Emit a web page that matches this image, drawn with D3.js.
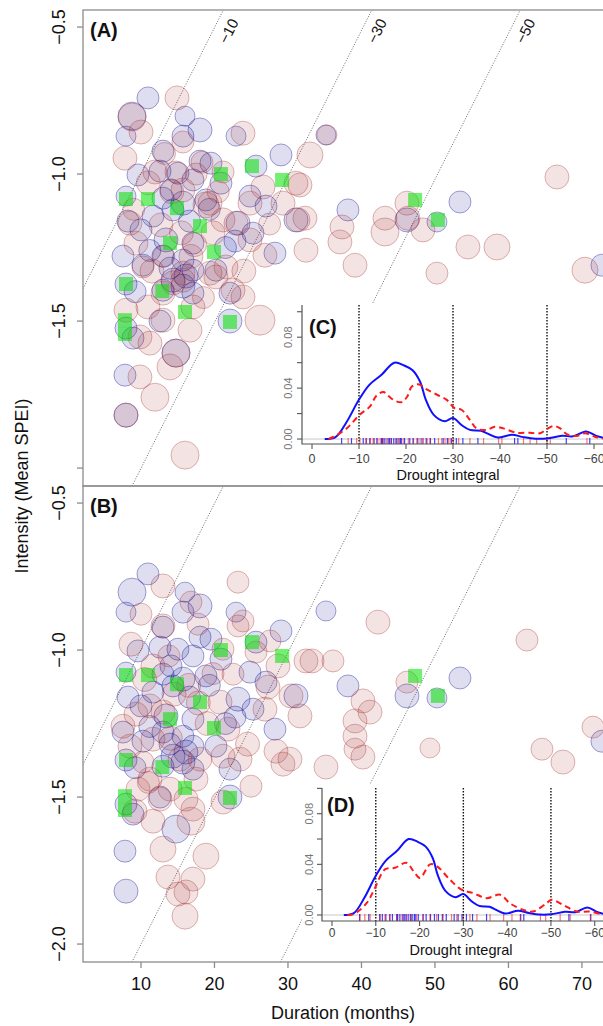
<!DOCTYPE html>
<html>
<head>
<meta charset="utf-8">
<script src="https://cdn.jsdelivr.net/npm/d3@7"></script>
<style>
body{margin:0;background:#fff}
svg{display:block;font-family:"Liberation Sans",Arial,sans-serif}
</style>
</head>
<body>
<svg id="svg"></svg>
<script>
var w = 603, h = 1026;

// observed drought events: [duration (months), mean SPEI, size class]
var blueEvents = [[10.95,-0.741,2],[8.78,-0.803,5],[15.99,-0.803,1],[18.03,-0.850,3],[7.96,-0.871,1],[15.71,-0.871,2],[22.93,-0.871,1],[12.99,-0.922,2],[29.05,-0.935,2],[18.03,-0.956,2],[19.52,-0.963,2],[25.65,-0.973,2],[12.59,-0.990,2],[15.03,-0.997,2],[9.59,-1.003,2],[17.07,-1.020,2],[20.88,-1.031,2],[7.96,-1.075,1],[14.08,-1.054,2],[18.84,-1.088,2],[15.71,-1.099,3],[24.83,-1.075,2],[27.01,-1.109,2],[31.09,-1.156,3],[8.23,-1.160,2],[23.2,-1.167,3],[25.24,-1.201,2],[13.4,-1.224,3],[17.07,-1.235,2],[22.79,-1.228,2],[28.23,-1.269,2],[7.55,-1.279,2],[10.27,-1.310,2],[12.99,-1.279,2],[15.71,-1.293,2],[20.2,-1.327,2],[14.35,-1.361,3],[16.12,-1.347,3],[7.96,-1.374,2],[12.99,-1.395,2],[15.71,-1.381,3],[17.07,-1.405,2],[22.11,-1.405,2],[22.11,-1.500,3],[7.96,-1.524,2],[8.91,-1.558,2],[12.59,-1.500,2],[14.76,-1.609,5],[7.82,-1.684,2],[7.96,-1.820,3],[35.17,-0.867,1],[38.16,-1.122,2],[46.19,-1.156,3],[50.27,-1.163,1],[53.4,-1.095,2],[72.72,-1.310,2],[14.35,-1.122,2],[12.99,-1.082,2],[11.63,-1.143,2],[13.95,-1.320,2],[17.07,-1.327,2],[10.0,-1.190,2],[11.2,-1.260,2],[16.6,-1.160,2],[19.3,-1.120,2],[9.2,-1.400,2],[21.5,-1.250,2]];

// simulated events, model A
var brownA = [[14.9,-0.741,3],[8.78,-0.806,5],[10.0,-0.857,3],[15.71,-0.891,2],[23.88,-0.861,3],[7.82,-0.946,3],[32.99,-0.935,4],[21.16,-0.993,2],[11.9,-0.993,3],[14.76,-0.993,2],[15.71,-1.054,3],[18.84,-1.105,4],[19.39,-1.099,3],[8.5,-1.167,3],[22.93,-1.167,3],[24.83,-1.099,3],[26.6,-1.044,3],[31.09,-1.031,3],[31.36,-1.156,3],[32.45,-1.259,3],[29.32,-1.099,3],[21.16,-1.156,3],[9.32,-1.235,3],[12.72,-1.173,3],[21.56,-1.316,3],[19.39,-1.337,3],[15.71,-1.337,3],[10.27,-1.316,2],[24.83,-1.224,3],[26.87,-1.276,3],[15.71,-1.361,3],[12.99,-1.405,3],[22.52,-1.395,3],[23.88,-1.418,3],[20.2,-1.350,3],[7.96,-1.463,3],[10.95,-1.452,3],[17.07,-1.452,3],[12.99,-1.497,3],[16.67,-1.531,3],[9.86,-1.554,3],[11.22,-1.575,3],[14.76,-1.609,5],[13.95,-1.656,4],[9.86,-1.690,3],[11.9,-1.759,5],[7.96,-1.820,3],[15.99,-1.956,5],[26.19,-1.497,6],[31.63,-1.037,3],[32.31,-1.150,3],[35.31,-0.867,1],[37.35,-1.180,3],[37.07,-1.231,3],[43.2,-1.150,3],[43.2,-1.197,5],[46.19,-1.099,3],[46.33,-1.150,3],[48.37,-1.190,3],[54.49,-1.248,3],[58.44,-1.248,4],[66.6,-1.010,3],[50.27,-1.337,2],[70.41,-1.327,4],[39.12,-1.310,3],[13.2,-0.930,2],[14.2,-1.060,3],[15.5,-1.200,3],[14.4,-1.370,3],[13.1,-1.280,2],[17.3,-1.240,3],[18.3,-0.960,2],[11.0,-1.030,3],[17.5,-1.000,2],[19.8,-1.200,3],[16.8,-1.280,3],[11.5,-1.330,3],[18.5,-1.420,2],[20.5,-1.060,2],[9.0,-1.120,2],[24.0,-1.330,3],[27.5,-1.170,2]];

// simulated events, model B
var brownB = [[12.99,-0.782,3],[23.2,-0.769,2],[10.0,-0.878,2],[23.88,-0.901,2],[16.8,-0.837,2],[17.76,-0.912,2],[8.64,-0.980,3],[12.99,-0.918,3],[21.16,-0.997,2],[23.2,-0.918,2],[27.55,-0.969,2],[25.65,-1.007,2],[28.64,-1.054,3],[32.45,-1.037,3],[30.41,-1.156,3],[31.63,-1.224,3],[27.28,-1.126,3],[22.52,-1.082,2],[11.63,-1.054,3],[12.99,-1.211,3],[11.22,-1.190,3],[9.32,-1.218,3],[20.75,-1.177,3],[21.84,-1.269,3],[26.87,-1.201,3],[7.55,-1.259,3],[8.5,-1.327,3],[11.63,-1.303,3],[18.03,-1.371,3],[15.31,-1.371,3],[21.16,-1.361,3],[23.47,-1.371,3],[28.37,-1.344,3],[30.27,-1.371,3],[10.27,-1.381,2],[29.32,-1.388,3],[17.48,-1.439,3],[11.22,-1.439,3],[13.95,-1.473,3],[12.59,-1.507,3],[16.12,-1.507,3],[9.59,-1.473,3],[17.07,-1.541,3],[11.63,-1.582,3],[16.8,-1.582,5],[24.97,-1.463,2],[21.16,-1.517,3],[12.99,-1.677,4],[18.84,-1.701,4],[13.67,-1.772,3],[17.07,-1.779,3],[15.03,-1.830,3],[16.12,-1.823,3],[15.99,-1.905,4],[9.18,-1.548,3],[42.24,-0.905,3],[33.27,-1.037,3],[36.12,-1.037,2],[40.2,-1.173,3],[41.16,-1.211,3],[39.12,-1.241,3],[39.12,-1.293,3],[39.12,-1.337,2],[40.2,-1.364,3],[35.17,-1.398,3],[46.19,-1.109,2],[49.32,-1.333,1],[62.52,-0.966,2],[71.5,-1.262,2],[64.56,-1.337,2],[67.41,-1.381,3],[14.5,-1.150,3],[16.5,-1.120,3],[13.8,-1.020,2],[19.0,-1.250,3],[10.5,-1.100,3],[17.8,-1.180,3],[19.8,-1.080,2],[14.0,-1.300,3],[11.0,-1.450,2],[24.5,-1.320,3]];

// highlighted events (green squares)
var greenEvents = [[7.96,-1.085],[10.95,-1.085],[14.9,-1.116],[20.88,-1.0],[25.1,-0.973],[29.2,-1.02],[18.03,-1.177],[13.95,-1.235],[19.93,-1.265],[7.96,-1.374],[12.9,-1.398],[15.99,-1.469],[7.82,-1.497],[7.82,-1.544],[22.11,-1.503],[47.3,-1.088],[50.4,-1.156]];

// drought integral iso-lines: [duration, SPEI] at both ends
var contourLevels = [-10, -30, -50];
var contourEnds = [[[22.05,-0.40],[-12.2,-2.10]], [[42.25,-0.40],[8.0,-2.10]], [[62.45,-0.40],[28.2,-2.10]]];

var xTicks = [10, 20, 30, 40, 50, 60, 70];
var yTicks = [-0.5, -1.0, -1.5, -2.0];

// density of drought integral: [integral, density]
var blueDens = [[-2.7,0],[-5.0,0.0015],[-7.3,0.013],[-10.0,0.031],[-12.2,0.0426],[-14.8,0.0505],[-17.5,0.060],[-19.6,0.0578],[-21.4,0.054],[-23.0,0.045],[-24.2,0.031],[-25.9,0.019],[-28.2,0.014],[-30.0,0.0165],[-31.8,0.011],[-33.6,0.0072],[-36.0,0.0065],[-37.5,0.004],[-39.5,0.0012],[-42.5,0.0033],[-45.0,0.0015],[-47.5,0.0003],[-50.0,0.0005],[-53.2,0.0025],[-55.6,0.0022],[-58.3,0.006],[-60.5,0.0025],[-62.5,0.0005]];
var redDensC = [[-3.5,0],[-4.6,0.0018],[-7.4,0.0084],[-10.1,0.019],[-12.3,0.0255],[-13.7,0.034],[-15.2,0.037],[-16.2,0.034],[-17.7,0.030],[-19.1,0.029],[-20.2,0.033],[-21.2,0.041],[-22.6,0.043],[-24.4,0.039],[-26.5,0.035],[-28.6,0.031],[-30.4,0.024],[-31.8,0.023],[-33.6,0.015],[-35.0,0.0084],[-37.1,0.0071],[-38.9,0.0097],[-40.7,0.0084],[-43.5,0.005],[-46.4,0.005],[-48.5,0.0045],[-49.9,0.0076],[-51.4,0.0103],[-52.8,0.0084],[-54.2,0.0039],[-56.3,0.0024],[-58.1,0.0045],[-60.2,0.0018],[-61.9,0.0003]];
var redDensD = [[-3.5,0],[-4.9,0.0005],[-7.9,0.0093],[-9.8,0.0213],[-12.1,0.036],[-14.4,0.0373],[-17.0,0.0413],[-18.6,0.0347],[-20.1,0.0293],[-22.4,0.040],[-23.9,0.0387],[-26.9,0.028],[-29.6,0.020],[-32.3,0.0173],[-35.3,0.0133],[-38.4,0.016],[-40.6,0.0093],[-43.7,0.004],[-45.9,0.0027],[-49.0,0.0093],[-50.2,0.012],[-52.8,0.008],[-55.9,0.0027],[-58.9,0.0027],[-61.9,0]];

var blueRug = [-6.3,-8.4,-10.9,-11.5,-12.3,-13.2,-13.8,-14.8,-15.0,-15.5,-16.2,-16.5,-16.9,-17.4,-17.9,-18.3,-18.8,-19.0,-19.7,-20.8,-21.5,-22.5,-23.4,-24.3,-25.2,-26.1,-27.9,-28.8,-29.7,-30.7,-32.1,-35.3,-43.1,-43.8,-54.1,-59.1];
var redRugC = [-7.7,-9.5,-10.2,-11.6,-12.4,-13.0,-14.0,-14.5,-15.2,-15.9,-16.6,-17.9,-18.6,-19.4,-20.5,-21.6,-22.3,-23.0,-23.7,-24.5,-25.1,-26.9,-27.6,-28.3,-29.0,-29.4,-30.1,-31.2,-33.6,-36.5,-39.7,-40.4,-45.0,-46.4,-47.8,-50.0,-50.7,-58.5];
var redRugD = [-6.4,-7.5,-8.7,-11.0,-12.1,-13.2,-14.8,-16.0,-17.0,-18.1,-19.3,-20.8,-22.4,-23.9,-25.4,-27.3,-28.5,-30.0,-31.5,-33.1,-36.1,-39.2,-41.1,-43.0,-47.6,-48.8,-52.1,-54.4,-59.0];

var insetXTicks = [0, -10, -20, -30, -40, -50, -60];
var insetYTicks = [0, 0.02, 0.04, 0.06, 0.08, 0.10];
var insetYLabels = [0, 0.04, 0.08];

var svg = d3.select("#svg").attr("width", w).attr("height", h);

var x = d3.scaleLinear().domain([2.11, 77.9]).range([83, 640]);
var rad = d3.scaleLinear().domain([1, 6]).range([10, 15]);
var fmt1 = d3.format(".1f");

function drawPanel(name, top, browns, labelled) {
    var y = d3.scaleLinear().domain([-2.061, -0.442]).range([top + 476, top]);
    var g = svg.append("g");

    svg.append("clipPath").attr("id", "clip" + name)
        .append("rect").attr("x", 83).attr("y", top).attr("width", 560).attr("height", 476);
    var plot = g.append("g").attr("clip-path", "url(#clip" + name + ")");

    plot.selectAll("line.iso").data(contourEnds).enter().append("line")
        .attr("x1", function(d){return x(d[0][0]);})
        .attr("y1", function(d){return y(d[0][1]);})
        .attr("x2", function(d){return x(d[1][0]);})
        .attr("y2", function(d){return y(d[1][1]);})
        .attr("stroke", "#444").attr("stroke-width", 0.8).attr("stroke-dasharray", "1,1.6");

    plot.selectAll("circle.obs").data(blueEvents).enter().append("circle")
        .attr("cx", function(d){return x(d[0]);})
        .attr("cy", function(d){return y(d[1]);})
        .attr("r", function(d){return rad(d[2]);})
        .attr("fill", "rgba(0,0,139,0.13)")
        .attr("stroke", "rgba(0,0,139,0.45)").attr("stroke-width", 0.8);

    plot.selectAll("circle.sim").data(browns).enter().append("circle")
        .attr("cx", function(d){return x(d[0]);})
        .attr("cy", function(d){return y(d[1]);})
        .attr("r", function(d){return rad(d[2]);})
        .attr("fill", "rgba(165,42,42,0.13)")
        .attr("stroke", "rgba(165,42,42,0.42)").attr("stroke-width", 0.8);

    plot.selectAll("rect.hl").data(greenEvents).enter().append("rect")
        .attr("x", function(d){return x(d[0]) - 7;})
        .attr("y", function(d){return y(d[1]) - 7;})
        .attr("width", 14).attr("height", 14)
        .attr("fill", "rgba(0,225,0,0.55)");

    if (labelled) {
        var iLab = y.invert(top + 21);
        contourEnds.forEach(function(seg, i) {
            var t = (iLab - seg[0][1]) / (seg[1][1] - seg[0][1]);
            var dLab = seg[0][0] + t * (seg[1][0] - seg[0][0]);
            var ang = Math.atan2(y(seg[0][1]) - y(seg[1][1]), x(seg[0][0]) - x(seg[1][0])) * 180 / Math.PI;
            g.append("text")
                .attr("transform", "translate(" + (x(dLab) + 15.5) + "," + (top + 21) + ") rotate(" + ang + ")")
                .attr("text-anchor", "middle").attr("dominant-baseline", "central")
                .attr("font-size", 15).attr("fill", "#111")
                .text(d3.format("d")(contourLevels[i]));
        });
    }

    // frame
    g.append("rect").attr("x", 83).attr("y", top).attr("width", 600).attr("height", 476)
        .attr("fill", "none").attr("stroke", "#8c8c8c").attr("stroke-width", 1.3);

    g.selectAll("line.yt").data(yTicks).enter().append("line")
        .attr("x1", 77).attr("x2", 83)
        .attr("y1", function(d){return y(d);}).attr("y2", function(d){return y(d);})
        .attr("stroke", "#8c8c8c").attr("stroke-width", 1.3);
    var labTicks = name === "A" ? yTicks.slice(0, 3) : yTicks;
    g.selectAll("text.yl").data(labTicks).enter().append("text")
        .attr("transform", function(d){return "translate(65," + y(d) + ") rotate(-90)";})
        .attr("text-anchor", "middle").attr("font-size", 18).attr("fill", "#111")
        .text(function(d){return fmt1(d);});

    g.append("text").attr("x", 90).attr("y", top + 27)
        .attr("font-size", 20).attr("font-weight", "bold").attr("fill", "#111")
        .text("(" + name + ")");
    return y;
}

function drawInset(cfg) {
    var ix = d3.scaleLinear().domain(cfg.xd).range(cfg.xr);
    var iy = d3.scaleLinear().domain(cfg.yd).range(cfg.yr);
    var g = svg.append("g");
    g.append("rect").attr("x", cfg.bg[0]).attr("y", cfg.bg[1]).attr("width", cfg.bg[2]).attr("height", cfg.bg[3])
        .attr("fill", "#fff");

    var bottom = cfg.yr[0], topY = cfg.yr[1];
    // zero line
    g.append("line").attr("x1", cfg.xr[0]).attr("x2", 610).attr("y1", iy(0)).attr("y2", iy(0))
        .attr("stroke", "#c8c8c8").attr("stroke-width", 1);

    g.selectAll("line.rb").data(blueRug).enter().append("line")
        .attr("x1", function(d){return ix(d);}).attr("x2", function(d){return ix(d);})
        .attr("y1", iy(0) - 1).attr("y2", bottom)
        .attr("stroke", "rgba(0,0,255,0.75)").attr("stroke-width", 1.2);
    g.selectAll("line.rr").data(cfg.rug).enter().append("line")
        .attr("x1", function(d){return ix(d);}).attr("x2", function(d){return ix(d);})
        .attr("y1", iy(0) - 1).attr("y2", bottom)
        .attr("stroke", "rgba(255,0,0,0.55)").attr("stroke-width", 1.2);

    g.selectAll("line.vl").data(contourLevels).enter().append("line")
        .attr("x1", function(d){return ix(d);}).attr("x2", function(d){return ix(d);})
        .attr("y1", topY).attr("y2", bottom)
        .attr("stroke", "#111").attr("stroke-width", 1.4).attr("stroke-dasharray", "1.5,1.5");

    var line = d3.line()
        .x(function(d){return ix(d[0]);})
        .y(function(d){return iy(d[1]);})
        .curve(d3.curveCatmullRom.alpha(0.5));
    g.append("path").datum(blueDens).attr("d", line)
        .attr("fill", "none").attr("stroke", "#1010ff").attr("stroke-width", 2);
    g.append("path").datum(cfg.red).attr("d", line)
        .attr("fill", "none").attr("stroke", "#ff1a1a").attr("stroke-width", 2).attr("stroke-dasharray", "6,4");

    // axes (L box)
    g.append("path").attr("d", "M" + cfg.xr[0] + "," + topY + "V" + bottom + "H610")
        .attr("fill", "none").attr("stroke", "#555").attr("stroke-width", 1.2);
    g.selectAll("line.xt").data(insetXTicks).enter().append("line")
        .attr("x1", function(d){return ix(d);}).attr("x2", function(d){return ix(d);})
        .attr("y1", bottom).attr("y2", bottom + 5)
        .attr("stroke", "#555").attr("stroke-width", 1.1);
    g.selectAll("text.xl").data(insetXTicks).enter().append("text")
        .attr("x", function(d){return ix(d);}).attr("y", cfg.xlabY)
        .attr("text-anchor", "middle").attr("font-size", cfg.xfs).attr("fill", "#444")
        .text(function(d){return d3.format("d")(d);});
    g.selectAll("line.ytk").data(insetYTicks).enter().append("line")
        .attr("x1", cfg.xr[0] - 5).attr("x2", cfg.xr[0])
        .attr("y1", function(d){return iy(d);}).attr("y2", function(d){return iy(d);})
        .attr("stroke", "#555").attr("stroke-width", 1.1);
    g.selectAll("text.ylb").data(insetYLabels).enter().append("text")
        .attr("transform", function(d){return "translate(" + cfg.ylabX + "," + iy(d) + ") rotate(-90)";})
        .attr("text-anchor", "middle").attr("font-size", 11).attr("fill", "#777")
        .text(function(d){return d3.format(".2f")(d);});

    g.append("text").attr("x", cfg.titleX).attr("y", cfg.titleY)
        .attr("text-anchor", "middle").attr("font-size", 14.5).attr("fill", "#111")
        .text("Drought integral");
    g.append("text").attr("x", cfg.tagX).attr("y", cfg.tagY)
        .attr("font-size", 20).attr("font-weight", "bold").attr("fill", "#111")
        .text(cfg.tag);
}

drawPanel("A", 10, brownA, true);
drawPanel("B", 486, brownB, false);

// x axis (bottom panel)
var xa = svg.append("g");
xa.selectAll("line").data(xTicks).enter().append("line")
    .attr("x1", function(d){return x(d);}).attr("x2", function(d){return x(d);})
    .attr("y1", 962).attr("y2", 968)
    .attr("stroke", "#8c8c8c").attr("stroke-width", 1.3);
xa.selectAll("text").data(xTicks).enter().append("text")
    .attr("x", function(d){return x(d);}).attr("y", 990)
    .attr("text-anchor", "middle").attr("font-size", 18).attr("fill", "#111")
    .text(function(d){return d;});

svg.append("text").attr("x", 343).attr("y", 1019)
    .attr("text-anchor", "middle").attr("font-size", 18).attr("fill", "#111")
    .text("Duration (months)");
svg.append("text").attr("transform", "translate(28,486) rotate(-90)")
    .attr("text-anchor", "middle").attr("font-size", 18).attr("fill", "#111")
    .text("Intensity (Mean SPEI)");

drawInset({bg:[279,303,340,181], xd:[2.13,-66], xr:[302,622.2], yd:[-0.0039,0.1053], yr:[444,305],
    red:redDensC, rug:redRugC, ylabX:292, xlabY:462.5, xfs:12.5, titleX:448, titleY:480, tag:"(C)", tagX:309, tagY:334});
drawInset({bg:[302,784,320,174], xd:[2.28,-66], xr:[322,621], yd:[-0.00475,0.1003], yr:[921,788],
    red:redDensD, rug:redRugD, ylabX:313, xlabY:937, xfs:12, titleX:461, titleY:955, tag:"(D)", tagX:327, tagY:812});
</script>
</body>
</html>
